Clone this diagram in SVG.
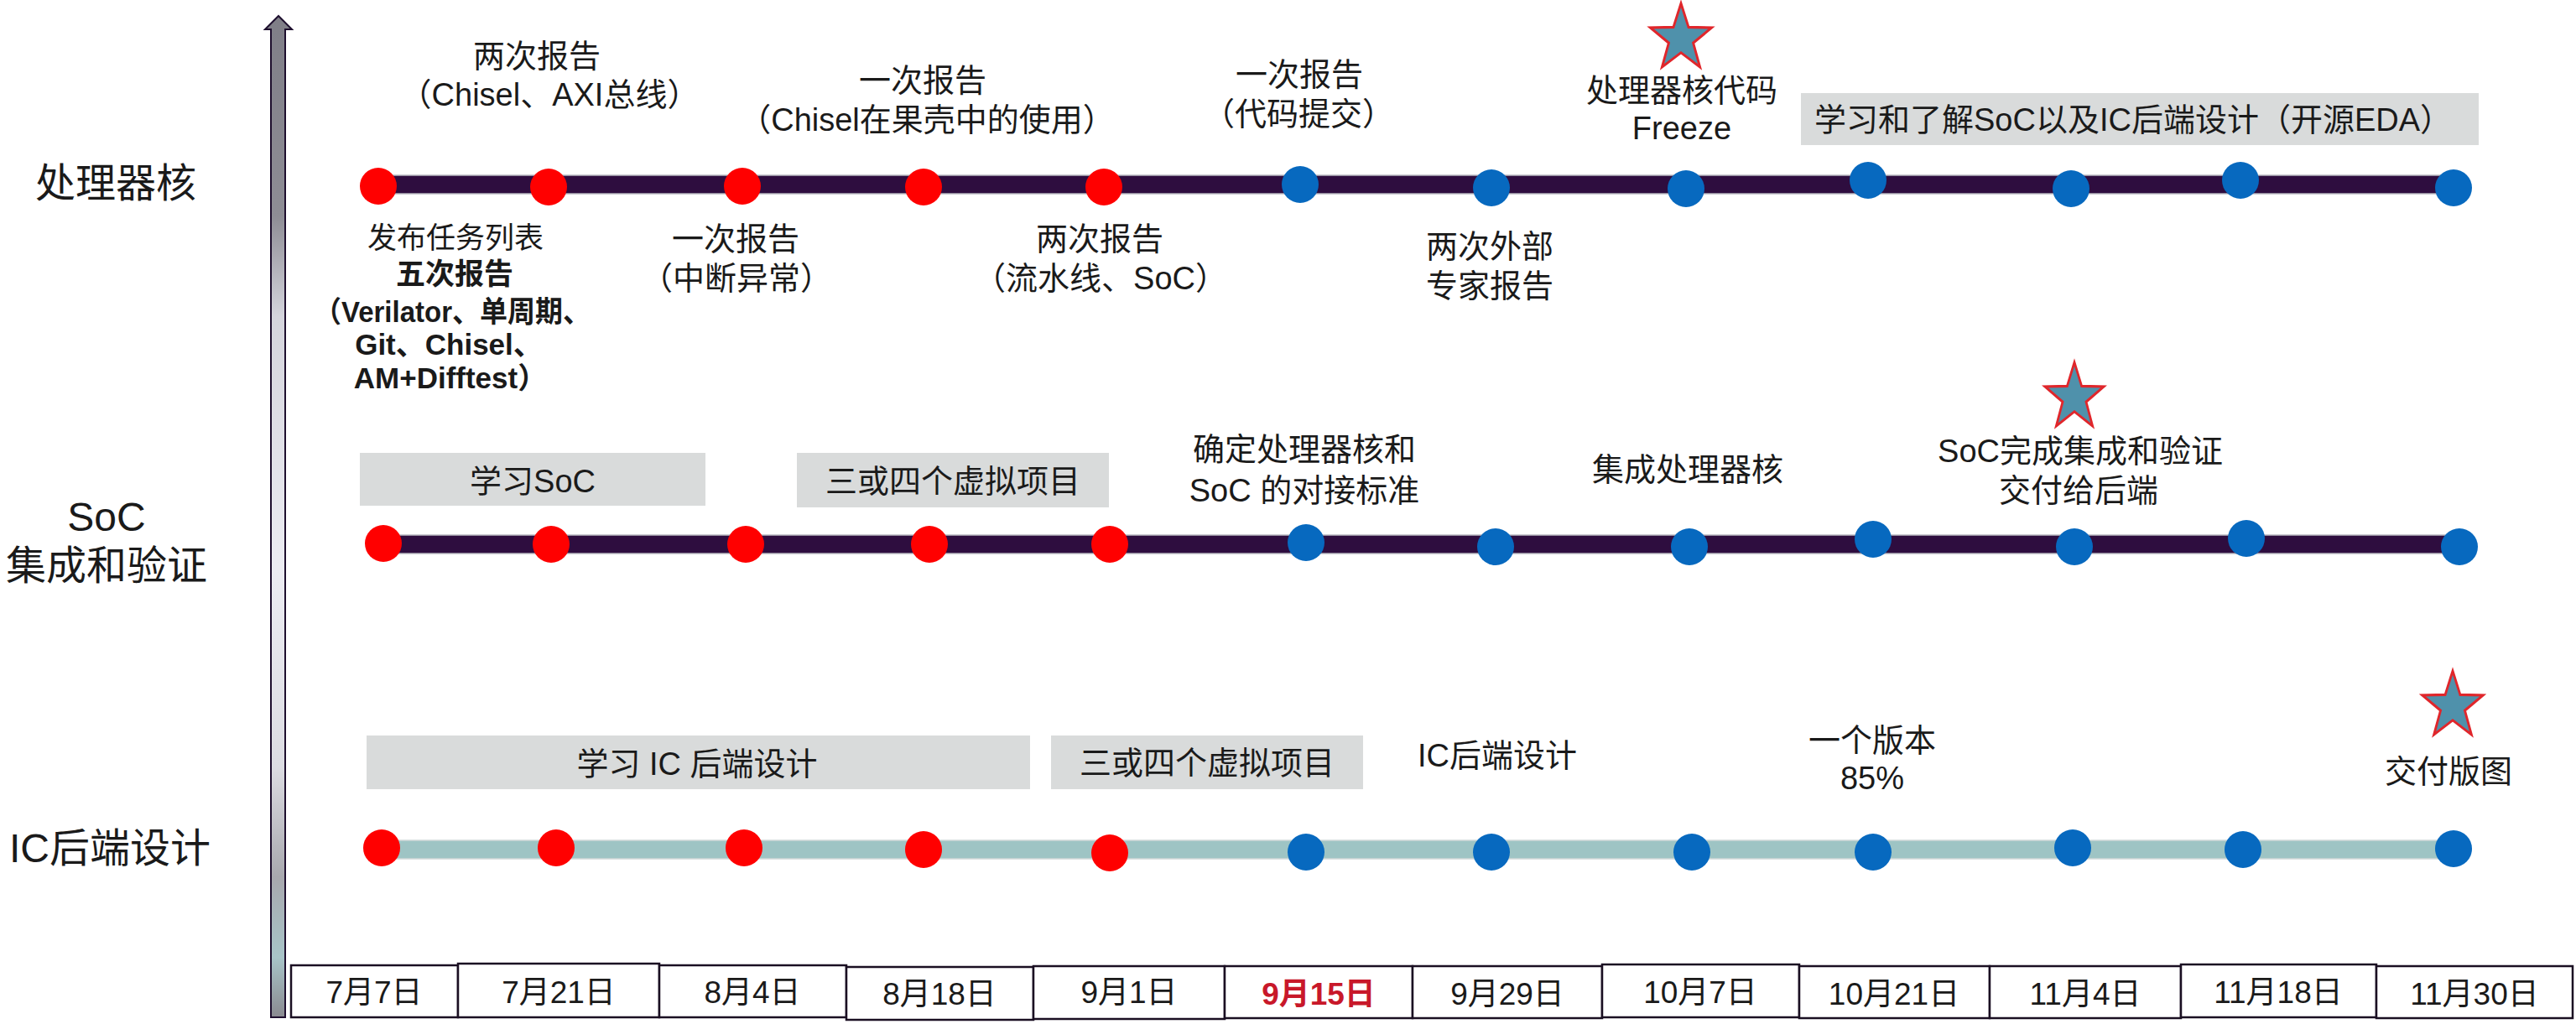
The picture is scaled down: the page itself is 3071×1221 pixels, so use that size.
<svg xmlns="http://www.w3.org/2000/svg" width="3071" height="1221" viewBox="0 0 3071 1221">
<style>
text{font-family:"Liberation Sans","Noto Sans CJK SC",sans-serif;fill:#1a1a1a;text-anchor:middle}
.t{font-size:38px}
.s{font-size:35px}
.bb{font-weight:bold}
.row{font-size:48px}
.date{font-size:37px}
.red-date{font-size:37px;font-weight:bold;fill:#c8182a}
.box{fill:#d9dbdb}
.dbox{fill:#ffffff;stroke:#1a0f22;stroke-width:2.5}
.dr{fill:#ff0000}
.db{fill:#0769bf}
.star{fill:#4f91ab;stroke:#e0262b;stroke-width:3;stroke-linejoin:miter}
.lineA{fill:#2e0d3f;stroke:#b8b8c0;stroke-width:1.5}
.lineB{fill:#9ec4c4;stroke:#d0d8d8;stroke-width:1.5}
</style>
<defs>
<path id="starShape" d="M0,-40 L9.4,-12.94 L38.04,-12.36 L15.22,4.94 L23.51,32.36 L0,16 L-23.51,32.36 L-15.22,4.94 L-38.04,-12.36 L-9.4,-12.94 Z"/>
<linearGradient id="axisGrad" x1="0" y1="0" x2="0" y2="1">
<stop offset="0" stop-color="#7f7e87"/>
<stop offset="0.2" stop-color="#8e8d95"/>
<stop offset="0.3" stop-color="#d4d4dc"/>
<stop offset="0.55" stop-color="#ececf2"/>
<stop offset="0.75" stop-color="#dcdce2"/>
<stop offset="0.86" stop-color="#a8a8ae"/>
<stop offset="0.94" stop-color="#a8c4c8"/>
<stop offset="1" stop-color="#8a8a90"/>
</linearGradient>
</defs>
<rect width="3071" height="1221" fill="#ffffff"/>

<g id="axis">
<path d="M332,19 L348,35 L340,35 L340,1213 L323,1213 L323,35 L316,35 Z" fill="url(#axisGrad)" stroke="#1e0f2e" stroke-width="2"/>
</g>

<g id="row-labels">
<text id="label-core" class="row" x="138" y="235">处理器核</text>
<text id="label-soc" class="row" x="127" y="633">SoC<tspan x="127" dy="58">集成和验证</tspan></text>
<text id="label-ic" class="row" x="131" y="1028">IC后端设计</text>
</g>

<g id="connectors">
<rect class="lineA" x="451" y="209" width="2474" height="22"/>
<rect class="lineA" x="457" y="638" width="2475" height="22"/>
<rect class="lineB" x="455" y="1002" width="2470" height="22"/>
</g>

<g id="dots-core">
<circle class="dr" cx="451" cy="222" r="22"/>
<circle class="dr" cx="654" cy="223" r="22"/>
<circle class="dr" cx="885" cy="222" r="22"/>
<circle class="dr" cx="1101" cy="223" r="22"/>
<circle class="dr" cx="1316" cy="223" r="22"/>
<circle class="db" cx="1550" cy="220" r="22"/>
<circle class="db" cx="1778" cy="224" r="22"/>
<circle class="db" cx="2010" cy="225" r="22"/>
<circle class="db" cx="2227" cy="215" r="22"/>
<circle class="db" cx="2469" cy="225" r="22"/>
<circle class="db" cx="2671" cy="215" r="22"/>
<circle class="db" cx="2925" cy="224" r="22"/>
</g>
<g id="dots-soc">
<circle class="dr" cx="457" cy="648" r="22"/>
<circle class="dr" cx="657" cy="649" r="22"/>
<circle class="dr" cx="889" cy="649" r="22"/>
<circle class="dr" cx="1108" cy="649" r="22"/>
<circle class="dr" cx="1323" cy="649" r="22"/>
<circle class="db" cx="1557" cy="647" r="22"/>
<circle class="db" cx="1783" cy="652" r="22"/>
<circle class="db" cx="2014" cy="652" r="22"/>
<circle class="db" cx="2233" cy="643" r="22"/>
<circle class="db" cx="2473" cy="652" r="22"/>
<circle class="db" cx="2678" cy="642" r="22"/>
<circle class="db" cx="2932" cy="652" r="22"/>
</g>
<g id="dots-ic">
<circle class="dr" cx="455" cy="1011" r="22"/>
<circle class="dr" cx="663" cy="1011" r="22"/>
<circle class="dr" cx="887" cy="1011" r="22"/>
<circle class="dr" cx="1101" cy="1013" r="22"/>
<circle class="dr" cx="1323" cy="1017" r="22"/>
<circle class="db" cx="1557" cy="1016" r="22"/>
<circle class="db" cx="1778" cy="1016" r="22"/>
<circle class="db" cx="2017" cy="1016" r="22"/>
<circle class="db" cx="2233" cy="1016" r="22"/>
<circle class="db" cx="2471" cy="1011" r="22"/>
<circle class="db" cx="2674" cy="1013" r="22"/>
<circle class="db" cx="2925" cy="1012" r="22"/>
</g>

<g id="core-above-1"><text class="t" x="640" y="80">两次报告<tspan x="655" dy="46">（Chisel、AXI总线）</tspan></text></g>
<g id="core-above-2"><text class="t" x="1100" y="109">一次报告<tspan x="1105" dy="47">（Chisel在果壳中的使用）</tspan></text></g>
<g id="core-above-3"><text class="t" x="1549" y="102">一次报告<tspan x="1548" dy="47">（代码提交）</tspan></text></g>
<g id="core-freeze">
<use href="#starShape" class="star" transform="translate(2004,46) scale(0.96,1.05)"/>
<text class="t" x="2005" y="121">处理器核代码<tspan x="2005" dy="45">Freeze</tspan></text>
</g>
<g id="core-learn"><rect class="box" x="2147" y="111" width="808" height="62"/><text class="t" x="2543" y="156">学习和了解SoC以及IC后端设计（开源EDA）</text></g>

<g id="core-below-1">
<text class="s" x="543" y="296">发布任务列表<tspan class="bb" x="542" dy="43">五次报告</tspan><tspan class="bb" x="539" dy="45" textLength="330" lengthAdjust="spacingAndGlyphs">（Verilator、单周期、</tspan><tspan class="bb" x="535" dy="39">Git、Chisel、</tspan><tspan class="bb" x="537" dy="40">AM+Difftest）</tspan></text>
</g>
<g id="core-below-2"><text class="t" x="877" y="298">一次报告<tspan x="878" dy="47">（中断异常）</tspan></text></g>
<g id="core-below-3"><text class="t" x="1311" y="298">两次报告<tspan x="1312" dy="47">（流水线、SoC）</tspan></text></g>
<g id="core-below-4"><text class="t" x="1776" y="307">两次外部<tspan x="1776" dy="47">专家报告</tspan></text></g>

<g id="soc-learn"><rect class="box" x="429" y="540" width="412" height="63"/><text class="t" x="635" y="587">学习SoC</text></g>
<g id="soc-virtual"><rect class="box" x="950" y="540" width="372" height="65"/><text class="t" x="1136" y="587">三或四个虚拟项目</text></g>
<g id="soc-standard"><text class="t" x="1555" y="549">确定处理器核和<tspan x="1555" dy="49">SoC 的对接标准</tspan></text></g>
<g id="soc-integrate"><text class="t" x="2012" y="573">集成处理器核</text></g>
<g id="soc-deliver">
<use href="#starShape" class="star" transform="translate(2473,474) scale(0.92,1.05)"/>
<text class="t" x="2480" y="551">SoC完成集成和验证<tspan x="2478" dy="47">交付给后端</tspan></text>
</g>

<g id="ic-learn"><rect class="box" x="437" y="877" width="791" height="64"/><text class="t" x="831" y="924">学习 IC 后端设计</text></g>
<g id="ic-virtual"><rect class="box" x="1253" y="877" width="372" height="64"/><text class="t" x="1439" y="923">三或四个虚拟项目</text></g>
<g id="ic-design"><text class="t" x="1785" y="914">IC后端设计</text></g>
<g id="ic-version"><text class="t" x="2232" y="896">一个版本<tspan x="2232" dy="45">85%</tspan></text></g>
<g id="ic-deliver">
<use href="#starShape" class="star" transform="translate(2924,842) scale(0.95,1.05)"/>
<text class="t" x="2919" y="933">交付版图</text>
</g>

<g id="dates">
<rect class="dbox" x="347" y="1151" width="199" height="62"/><text class="date" x="446" y="1196">7月7日</text>
<rect class="dbox" x="546" y="1149" width="240" height="64"/><text class="date" x="666" y="1196">7月21日</text>
<rect class="dbox" x="786" y="1151" width="223" height="62"/><text class="date" x="897" y="1196">8月4日</text>
<rect class="dbox" x="1009" y="1153" width="223" height="63"/><text class="date" x="1120" y="1198">8月18日</text>
<rect class="dbox" x="1232" y="1152" width="228" height="63"/><text class="date" x="1346" y="1196">9月1日</text>
<rect class="dbox" x="1460" y="1152" width="224" height="62"/><text class="red-date" x="1572" y="1198">9月15日</text>
<rect class="dbox" x="1684" y="1152" width="226" height="62"/><text class="date" x="1797" y="1198">9月29日</text>
<rect class="dbox" x="1910" y="1150" width="235" height="63"/><text class="date" x="2027" y="1196">10月7日</text>
<rect class="dbox" x="2145" y="1152" width="227" height="62"/><text class="date" x="2258" y="1198">10月21日</text>
<rect class="dbox" x="2372" y="1152" width="228" height="62"/><text class="date" x="2486" y="1198">11月4日</text>
<rect class="dbox" x="2600" y="1150" width="233" height="63"/><text class="date" x="2716" y="1196">11月18日</text>
<rect class="dbox" x="2833" y="1152" width="234" height="62"/><text class="date" x="2950" y="1198">11月30日</text>
</g>
</svg>
